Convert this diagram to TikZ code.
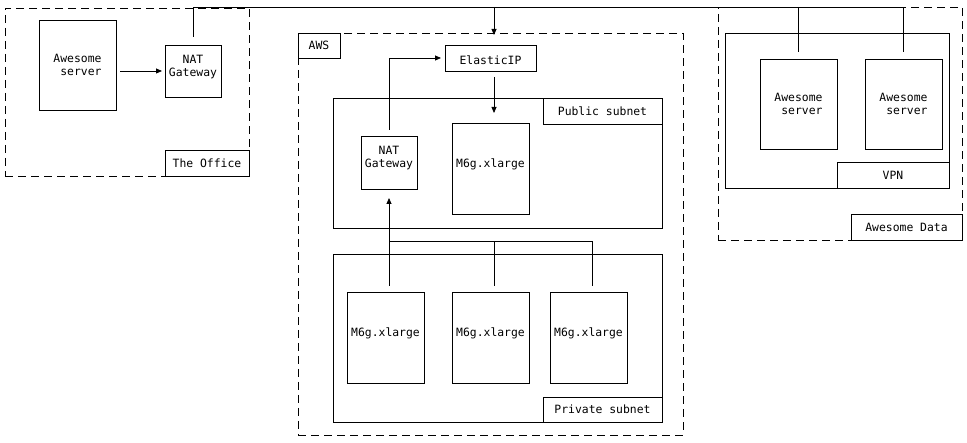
\documentclass[tikz,border=0pt]{standalone}
\usepackage{fontspec}
\setmonofont{DejaVu Sans Mono}
\usetikzlibrary{arrows.meta, positioning}

\begin{document}
\begin{tikzpicture}[x=1pt, y=-1pt,
    every node/.style={font=\ttfamily\fontsize{11.4}{13}\selectfont,
                       inner sep=0pt, outer sep=0pt},
    box/.style={draw, line width=0.8pt, minimum width=77, minimum height=91,
                align=center},
    up/.style={text depth=11pt},
    down/.style={text height=14pt},
    zone/.style={draw, line width=0.8pt, dash pattern=on 8pt off 5pt},
    net/.style={draw, line width=0.8pt},
    tag/.style={draw, line width=0.8pt, minimum height=26},
    arr/.style={-{Triangle[length=6pt, width=5pt]}, line width=0.8pt},
    wire/.style={line width=0.8pt}
  ]
  \useasboundingbox (0,0) rectangle (967,443);

  \node[zone, minimum width=244, minimum height=168] (office) at (127,92) {};
  \node[tag, minimum width=84, anchor=south east] (officetag) at (office.south east) {The Office};
  \node[box, minimum height=90, align=right] (srvA) at (77.5,65) {Awesome\\server};
  \node[box, up, minimum width=56, minimum height=52] (natA) at (193,71) {NAT\\Gateway};

  \node[zone, minimum width=385, minimum height=402] (aws) at (490.5,234) {};
  \node[tag, minimum width=42, minimum height=25, anchor=north west] (awstag) at (aws.north west) {AWS};
  \node[box, down, minimum width=91, minimum height=26] (eip) at (490.5,58) {ElasticIP};
  \node[net, minimum width=329, minimum height=130] (pub) at (497.5,163) {};
  \node[tag, minimum width=119, anchor=north east] (pubtag) at (pub.north east) {Public subnet};
  \node[box, up, minimum width=56, minimum height=53] (natB) at (389,162.5) {NAT\\Gateway};
  \node[box, up] (m6pub) at (490.5,168.5) {M6g.xlarge};
  \node[net, minimum width=329, minimum height=168] (priv) at (497.5,338) {};
  \node[tag, minimum width=119, minimum height=25, anchor=south east] (privtag) at (priv.south east) {Private subnet};
  \node[box, up] (m6a) at (385.5,337.5) {M6g.xlarge};
  \node[box, up] (m6b) at (490.5,337.5) {M6g.xlarge};
  \node[box, up] (m6c) at (588.5,337.5) {M6g.xlarge};

  \node[zone, minimum width=244, minimum height=233] (data) at (840,123.5) {};
  \node[tag, minimum width=111, anchor=south east] (datatag) at (data.south east) {Awesome Data};
  \node[net, minimum width=224, minimum height=155] (vpn) at (837,110.5) {};
  \node[tag, minimum width=112, anchor=south east] (vpntag) at (vpn.south east) {VPN};
  \node[box, minimum height=90, align=right] (srvB) at (798.5,104) {Awesome\\server};
  \node[box, minimum height=90, align=right] (srvC) at (903.5,104) {Awesome\\server};

  \coordinate (bus) at (0,7);
  \coordinate (join) at (389,241);
  \coordinate (awsin) at ([xshift=3.5]aws.north);
  \draw[arr, shorten <=4pt, shorten >=3pt] (srvA.east |- natA) -- (natA);
  \draw[wire, shorten <=8pt, shorten >=7pt] (natA.north) |- (bus -| srvC.north) -- (srvC.north);
  \draw[wire, shorten >=7pt] (bus -| srvB.north) -- (srvB.north);
  \draw[arr, shorten >=-2pt] (bus -| awsin) -- (awsin);
  \draw[arr, shorten <=6pt, shorten >=4pt] (natB.north) |- (eip.west);
  \draw[arr, shorten <=6pt, shorten >=10pt] ([xshift=3.5]eip.south) -- ([xshift=3.5]m6pub.north);
  \draw[arr, shorten <=6pt, shorten >=9pt] (natB.south |- m6a.north) -- (natB.south);
  \draw[wire, shorten >=6pt] (join) -| ([xshift=3.5]m6b.north);
  \draw[wire, shorten >=6pt] (join) -| ([xshift=3.5]m6c.north);
\end{tikzpicture}
\end{document}
